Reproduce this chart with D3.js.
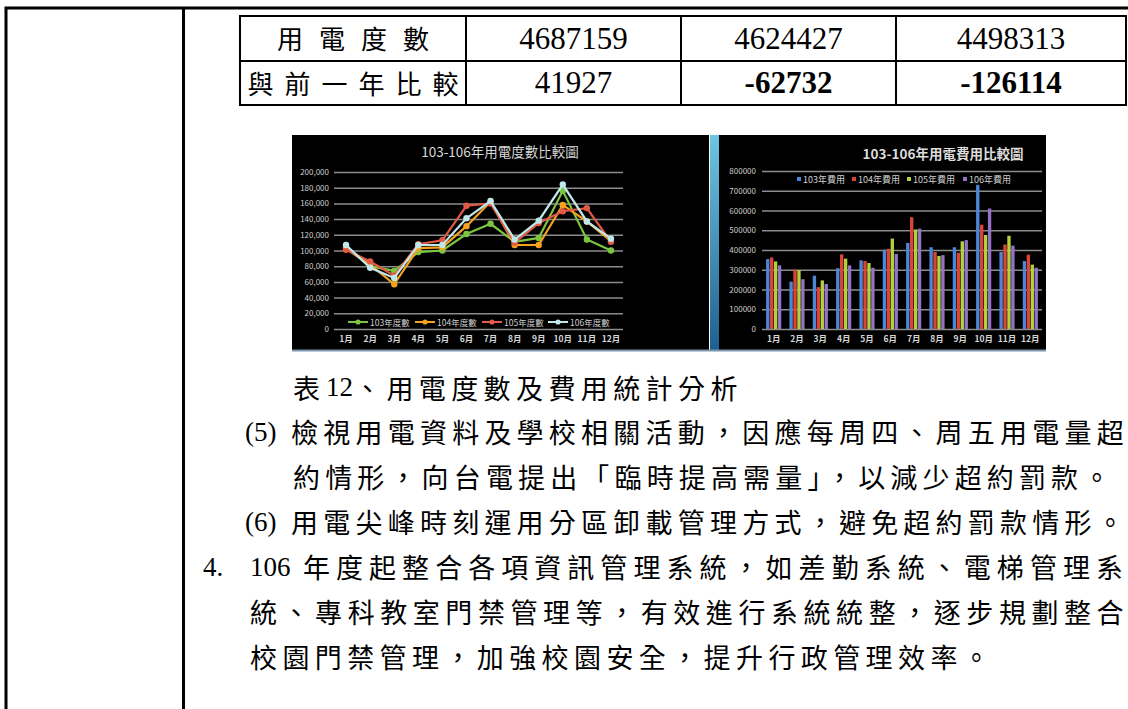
<!DOCTYPE html>
<html>
<head>
<meta charset="utf-8">
<script src="https://cdn.jsdelivr.net/npm/d3@7"></script>
<style>
  body { margin: 0; background: #ffffff; }
  svg { display: block; }
</style>
</head>
<body>
<script>
// ---- data ----
const months = ["1月", "2月", "3月", "4月", "5月", "6月", "7月", "8月", "9月", "10月", "11月", "12月"];

const kwhSeries = ["103年度數", "104年度數", "105年度數", "106年度數"];
const kwh103 = [104000, 80000, 74000, 98000, 100000, 121000, 134000, 111000, 116000, 176000, 114000, 100000];
const kwh104 = [102000, 82000, 57000, 103000, 104000, 131000, 162000, 107000, 107000, 158000, 137000, 112000];
const kwh105 = [101000, 86000, 68000, 108000, 113000, 157000, 160000, 110000, 135000, 150000, 154000, 111000];
const kwh106 = [107000, 78000, 65000, 107000, 107000, 141000, 163000, 114000, 138000, 184000, 137000, 115000];

const costSeries = ["103年費用", "104年費用", "105年費用", "106年費用"];
const cost103 = [354000, 240000, 270000, 308000, 348000, 402000, 436000, 414000, 414000, 730000, 390000, 344000];
const cost104 = [362000, 300000, 212000, 378000, 344000, 406000, 566000, 390000, 386000, 528000, 428000, 376000];
const cost105 = [342000, 298000, 246000, 356000, 334000, 458000, 504000, 370000, 444000, 476000, 472000, 326000];
const cost106 = [322000, 252000, 228000, 322000, 310000, 380000, 508000, 374000, 450000, 610000, 422000, 310000];

const tableRow1 = ["用電度數", "4687159", "4624427", "4498313"];
const tableRow2 = ["與前一年比較", "41927", "-62732", "-126114"];

const lineTitle = "103-106年用電度數比較圖";
const barTitle = "103-106年用電費用比較圖";

const bodyRuns = [
  ["表", "12", "、用電度數及費用統計分析"],
  ["(5)", "檢視用電資料及學校相關活動，因應每周四、周五用電量超"],
  ["約情形，向台電提出「臨時提高需量」，以減少超約罰款。"],
  ["(6)", "用電尖峰時刻運用分區卸載管理方式，避免超約罰款情形。"],
  ["4.", "106", "年度起整合各項資訊管理系統，如差勤系統、電梯管理系"],
  ["統、專科教室門禁管理等，有效進行系統統整，逐步規劃整合"],
  ["校園門禁管理，加強校園安全，提升行政管理效率。"],
];

// ---- layout ----
const W = 1128, H = 709;
const CJK = "'Noto Sans CJK TC', sans-serif";
const SERIF = "'Liberation Serif', 'DejaVu Serif', serif";
const lineColors = ["#7cc540", "#f5a21e", "#e25a45", "#bfe8ea"];
const barColors = ["#4c86d6", "#dc4439", "#b2d13c", "#9373c6"];

const svg = d3.select("body").append("svg").attr("width", W).attr("height", H);

// page frame
svg.append("path")
  .attr("d", `M6,${H} V8 H${W} M183.5,8 V${H}`)
  .attr("fill", "none")
  .attr("stroke", "#000")
  .attr("stroke-width", 3);

// table
const colX = [240, 466, 681, 896, 1126];
const rowY = [16, 61, 105];
const table = svg.append("g");
table.append("rect")
  .attr("x", colX[0]).attr("y", rowY[0])
  .attr("width", colX[4] - colX[0]).attr("height", rowY[2] - rowY[0])
  .attr("fill", "none").attr("stroke", "#000").attr("stroke-width", 2);
table.selectAll("line.col")
  .data(colX.slice(1, 4))
  .join("line")
  .attr("x1", (d) => d).attr("x2", (d) => d)
  .attr("y1", rowY[0]).attr("y2", rowY[2])
  .attr("stroke", "#000").attr("stroke-width", 2);
table.append("line")
  .attr("x1", colX[0]).attr("x2", colX[4])
  .attr("y1", rowY[1]).attr("y2", rowY[1])
  .attr("stroke", "#000").attr("stroke-width", 2);

[tableRow1, tableRow2].forEach((row, ri) => {
  const cy = (rowY[ri] + rowY[ri + 1]) / 2;
  row.forEach((txt, ci) => {
    const cx = (colX[ci] + colX[ci + 1]) / 2;
    if (ci === 0) {
      const ls = ri === 0 ? 16 : 11;
      table.append("text")
        .attr("x", cx + ls / 2).attr("y", cy - 1)
        .attr("text-anchor", "middle")
        .attr("dominant-baseline", "central")
        .style("font-family", CJK).style("font-size", "26px")
        .style("letter-spacing", ls + "px")
        .text(txt);
    } else {
      table.append("text")
        .attr("x", cx).attr("y", cy + 10)
        .attr("text-anchor", "middle")
        .style("font-family", SERIF).style("font-size", "31px")
        .style("font-weight", ri === 1 && ci > 1 ? "bold" : "normal")
        .text(txt);
    }
  });
});

// ---- line chart ----
svg.append("rect")
  .attr("x", 292).attr("y", 135).attr("width", 417).attr("height", 215)
  .attr("fill", "#000");

const lc = { left: 334, right: 623, top: 172, bottom: 329 };
const xL = d3.scaleBand().domain(months).range([lc.left, lc.right]);
const yL = d3.scaleLinear().domain([0, 200000]).range([lc.bottom, lc.top]);

const lineG = svg.append("g");
lineG.append("g")
  .attr("transform", `translate(${lc.left},0)`)
  .call(d3.axisLeft(yL).ticks(10).tickSize(-(lc.right - lc.left)).tickPadding(5).tickFormat(d3.format(",")))
  .call((g) => g.select(".domain").remove())
  .call((g) => g.selectAll("line").attr("stroke", "#8c8c8c").attr("stroke-width", 1.5))
  .call((g) => g.selectAll("text").attr("fill", "#cfcfcf").style("font-family", CJK).style("font-size", "8px"));

lineG.append("g")
  .attr("transform", `translate(0,${lc.bottom})`)
  .call(d3.axisBottom(xL).tickSize(0).tickPadding(7))
  .call((g) => g.select(".domain").remove())
  .call((g) => g.selectAll("text").attr("fill", "#d6d6d6").style("font-family", CJK).style("font-size", "8.5px").style("font-weight", "bold"));

lineG.append("text")
  .attr("x", 500).attr("y", 157)
  .attr("text-anchor", "middle")
  .attr("fill", "#d8d8d8")
  .style("font-family", CJK).style("font-size", "13.5px")
  .text(lineTitle);

const kwhData = [kwh103, kwh104, kwh105, kwh106];
const cx = (m) => xL(m) + xL.bandwidth() / 2;
const line = d3.line().x((d, i) => cx(months[i])).y((d) => yL(d));

kwhData.forEach((vals, si) => {
  lineG.append("path")
    .datum(vals)
    .attr("fill", "none")
    .attr("stroke", lineColors[si])
    .attr("stroke-width", 2.2)
    .attr("d", line);
  lineG.selectAll(null)
    .data(vals)
    .join("circle")
    .attr("cx", (d, i) => cx(months[i]))
    .attr("cy", (d) => yL(d))
    .attr("r", 3.2)
    .attr("fill", lineColors[si]);
});

// line legend
const legL = lineG.append("g").attr("transform", "translate(348,322)");
const legLX = [0, 67, 134, 200];
kwhSeries.forEach((name, i) => {
  const g = legL.append("g").attr("transform", `translate(${legLX[i]},0)`);
  g.append("line").attr("x1", 0).attr("x2", 20).attr("y1", 0).attr("y2", 0)
    .attr("stroke", lineColors[i]).attr("stroke-width", 2);
  g.append("circle").attr("cx", 10).attr("cy", 0).attr("r", 2.6).attr("fill", lineColors[i]);
  g.append("text").attr("x", 22).attr("y", 0)
    .attr("dominant-baseline", "central")
    .attr("fill", "#cfcfcf")
    .style("font-family", CJK).style("font-size", "8.5px")
    .text(name);
});

// ---- bar chart ----
const grad = svg.append("defs").append("linearGradient")
  .attr("id", "strip-gradient")
  .attr("x1", "0%").attr("x2", "0%").attr("y1", "0%").attr("y2", "100%");
grad.append("stop").attr("offset", "0%").attr("stop-color", "#6ec6e2");
grad.append("stop").attr("offset", "100%").attr("stop-color", "#1f5f8f");

svg.append("rect")
  .attr("x", 710).attr("y", 135).attr("width", 9).attr("height", 215)
  .attr("fill", "url(#strip-gradient)");
svg.append("rect")
  .attr("x", 719).attr("y", 135).attr("width", 327).attr("height", 215)
  .attr("fill", "#000");

// bottom edge of both screenshots
svg.append("rect")
  .attr("x", 292).attr("y", 349.5).attr("width", 754).attr("height", 2)
  .attr("fill", "#7f95ab");

const bc = { left: 762, right: 1042, top: 171, bottom: 329 };
const x0 = d3.scaleBand().domain(months).range([bc.left, bc.right]).paddingInner(0.3).paddingOuter(0.15);
const x1 = d3.scaleBand().domain(d3.range(4)).range([0, x0.bandwidth()]).padding(0.15);
const yB = d3.scaleLinear().domain([0, 800000]).range([bc.bottom, bc.top]);

const barG = svg.append("g");
barG.append("g")
  .attr("transform", `translate(${bc.left},0)`)
  .call(d3.axisLeft(yB).ticks(8).tickSize(-(bc.right - bc.left)).tickPadding(6).tickFormat(d3.format("d")))
  .call((g) => g.select(".domain").remove())
  .call((g) => g.selectAll("line").attr("stroke", "#8c8c8c").attr("stroke-width", 1.5))
  .call((g) => g.selectAll("text").attr("fill", "#cfcfcf").style("font-family", CJK).style("font-size", "8px"));

barG.append("g")
  .attr("transform", `translate(0,${bc.bottom})`)
  .call(d3.axisBottom(x0).tickSize(0).tickPadding(7))
  .call((g) => g.select(".domain").remove())
  .call((g) => g.selectAll("text").attr("fill", "#d6d6d6").style("font-family", CJK).style("font-size", "8.5px").style("font-weight", "bold"));

barG.append("text")
  .attr("x", 943).attr("y", 159)
  .attr("text-anchor", "middle")
  .attr("fill", "#dcdcdc")
  .style("font-family", CJK).style("font-size", "13.5px").style("font-weight", "bold")
  .text(barTitle);

const costData = [cost103, cost104, cost105, cost106];
const groups = barG.selectAll("g.month")
  .data(months)
  .join("g")
  .attr("class", "month")
  .attr("transform", (m) => `translate(${x0(m)},0)`);
groups.selectAll("rect")
  .data((m, mi) => costData.map((s, si) => ({ si, v: s[mi] })))
  .join("rect")
  .attr("x", (d) => x1(d.si))
  .attr("y", (d) => yB(d.v))
  .attr("width", x1.bandwidth())
  .attr("height", (d) => bc.bottom - yB(d.v))
  .attr("fill", (d) => barColors[d.si]);

// bar legend
const legB = barG.append("g").attr("transform", "translate(797,179)");
const legBX = [0, 55, 110, 166];
costSeries.forEach((name, i) => {
  const g = legB.append("g").attr("transform", `translate(${legBX[i]},0)`);
  g.append("rect").attr("x", 0).attr("y", -2).attr("width", 4).attr("height", 4).attr("fill", barColors[i]);
  g.append("text").attr("x", 6).attr("y", 0)
    .attr("dominant-baseline", "central")
    .attr("fill", "#cfcfcf")
    .style("font-family", CJK).style("font-size", "9px")
    .text(name);
});

// ---- body text ----
// start of each run; justified lines end at the right margin
const runX = [[293, 326, 354], [245, 291], [293], [245, 291], [203, 250, 303], [250], [250]];
const justified = [false, true, true, true, true, true, false];
const rightEdge = 1129;
const fontPx = 27;
const isLatin = (s) => /^[\x00-\x7f]+$/.test(s);

bodyRuns.forEach((runs, li) => {
  const y = 387 + li * 44.9;
  runs.forEach((run, ri) => {
    const latin = isLatin(run);
    const n = Array.from(run).length;
    const x = runX[li][ri];
    const adv = justified[li] && ri === runs.length - 1 ? (rightEdge - x) / n : 32.4;
    svg.append("text")
      .attr("x", x).attr("y", y)
      .attr("dominant-baseline", "central")
      .style("font-family", latin ? SERIF : CJK)
      .style("font-size", fontPx + "px")
      .style("letter-spacing", latin ? "0px" : (adv - fontPx).toFixed(2) + "px")
      .attr("fill", "#000")
      .text(run);
  });
});
</script>
</body>
</html>
